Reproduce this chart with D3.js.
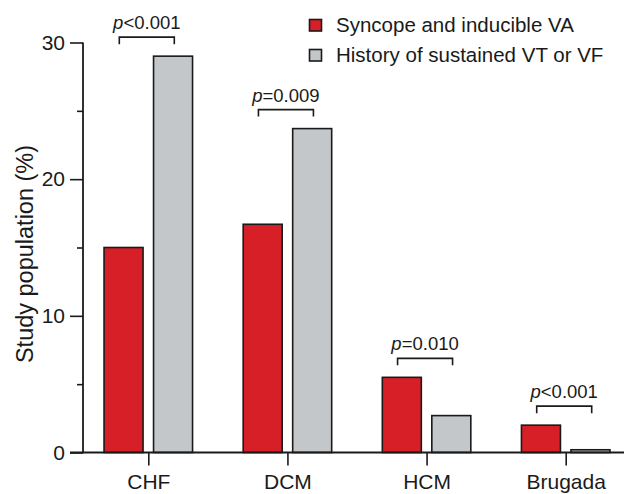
<!DOCTYPE html>
<html>
<head>
<meta charset="utf-8">
<script src="https://cdn.jsdelivr.net/npm/d3@7"></script>
<style>
  body { margin: 0; background: #fff; }
  svg { display: block; font-family: "Liberation Sans", Arial, sans-serif; }
</style>
</head>
<body>
<div id="chart"></div>
<script>
// chart size
const width = 624;
const height = 494;

// data
const categories = ["CHF", "DCM", "HCM", "Brugada"];
const seriesNames = ["Syncope and inducible VA", "History of sustained VT or VF"];
const syncopeVA = [15.0, 16.7, 5.5, 2.0];
const historyVTVF = [29.0, 23.7, 2.7, 0.2];
const pValues = ["<0.001", "=0.009", "=0.010", "<0.001"];
const majorTicks = [0, 10, 20, 30];
const minorTicks = [5, 15, 25];

const colors = ["#d71f27", "#c4c7c9"];
const ink = "#1a1a1a";

const svg = d3.select("#chart")
  .append("svg")
  .attr("width", width)
  .attr("height", height);

// scales
const yScale = d3.scaleLinear()
  .domain([0, 30])
  .range([452.5, 42.5]);

const xScale = d3.scalePoint()
  .domain(categories)
  .range([148.3, 565.7]);

// two bars inside each category
const inner = d3.scaleBand()
  .domain(seriesNames)
  .range([-44.25, 44.25])
  .paddingInner(0.212);

const axisX = 83;
const baseY = yScale(0);

/* bars */
const rows = categories.map((c, i) => ({cat: c, vals: [syncopeVA[i], historyVTVF[i]]}));

const groups = svg.selectAll(".cat")
  .data(rows)
  .enter()
  .append("g")
    .attr("class", "cat")
    .attr("transform", d => `translate(${xScale(d.cat)},0)`);

groups.selectAll("rect")
  .data(d => d.vals.map((v, k) => ({series: seriesNames[k], k: k, value: v})))
  .enter()
  .append("rect")
    .attr("x", d => inner(d.series))
    .attr("y", d => yScale(d.value))
    .attr("width", inner.bandwidth())
    .attr("height", d => baseY - yScale(d.value))
    .attr("fill", d => colors[d.k])
    .attr("stroke", ink)
    .attr("stroke-width", 1.6);

/* axes */
// y axis major ticks
const yAxis = svg.append("g")
  .attr("transform", `translate(${axisX},0)`)
  .call(d3.axisLeft(yScale).tickValues(majorTicks).tickSize(13).tickSizeOuter(0).tickPadding(5));
yAxis.select(".domain").remove();
yAxis.selectAll(".tick line").attr("stroke", ink).attr("stroke-width", 1.6);
yAxis.selectAll(".tick text")
  .attr("fill", ink)
  .attr("font-size", "21px")
  .attr("font-family", "Liberation Sans, Arial, sans-serif");

// y axis minor ticks
svg.append("g")
  .attr("transform", `translate(${axisX},0)`)
  .call(d3.axisLeft(yScale).tickValues(minorTicks).tickSize(6).tickFormat(""))
  .call(g => g.select(".domain").remove())
  .selectAll("line").attr("stroke", ink).attr("stroke-width", 1.6);

// y axis line
svg.append("line")
  .attr("x1", axisX).attr("x2", axisX)
  .attr("y1", yScale(30)).attr("y2", baseY + 0.8)
  .attr("stroke", ink).attr("stroke-width", 1.8);

// x axis
const xAxis = svg.append("g")
  .attr("transform", `translate(0,${baseY})`)
  .call(d3.axisBottom(xScale).tickSize(13).tickPadding(9));
xAxis.select(".domain").remove();
xAxis.selectAll(".tick line").attr("stroke", ink).attr("stroke-width", 1.6);
xAxis.selectAll(".tick text")
  .attr("fill", ink)
  .attr("font-size", "21px")
  .attr("font-family", "Liberation Sans, Arial, sans-serif");

svg.append("line")
  .attr("x1", axisX - 13).attr("x2", 624)
  .attr("y1", baseY).attr("y2", baseY)
  .attr("stroke", ink).attr("stroke-width", 1.8);

// y title
svg.append("text")
  .attr("transform", "translate(33,254) rotate(-90)")
  .attr("text-anchor", "middle")
  .attr("font-size", "23.5px")
  .attr("fill", ink)
  .text("Study population (%)");

/* significance brackets */
const brackets = svg.selectAll(".bracket")
  .data(rows.map((r, i) => ({cat: r.cat, top: d3.max(r.vals), p: pValues[i]})))
  .enter()
  .append("g")
    .attr("class", "bracket")
    .attr("transform", d => `translate(${xScale(d.cat)},${yScale(d.top) - 19})`);

brackets.append("path")
  .attr("d", "M-29,7V0H26V7")
  .attr("fill", "none")
  .attr("stroke", ink)
  .attr("stroke-width", 1.6);

const pText = brackets.append("text")
  .attr("x", -1.5)
  .attr("y", -8)
  .attr("text-anchor", "middle")
  .attr("font-size", "18.5px")
  .attr("fill", ink);
pText.append("tspan").attr("font-style", "italic").text("p");
pText.append("tspan").text(d => d.p);

/* legend */
const legend = svg.selectAll(".legend")
  .data(seriesNames)
  .enter()
  .append("g")
    .attr("class", "legend")
    .attr("transform", (d, i) => `translate(309.5,${19.5 + i * 30})`);

legend.append("rect")
  .attr("width", 12)
  .attr("height", 11.5)
  .attr("fill", (d, i) => colors[i])
  .attr("stroke", ink)
  .attr("stroke-width", 1.6);

legend.append("text")
  .attr("x", 26.5)
  .attr("y", 12.8)
  .attr("font-size", "20.5px")
  .attr("fill", ink)
  .text(d => d);
</script>
</body>
</html>
